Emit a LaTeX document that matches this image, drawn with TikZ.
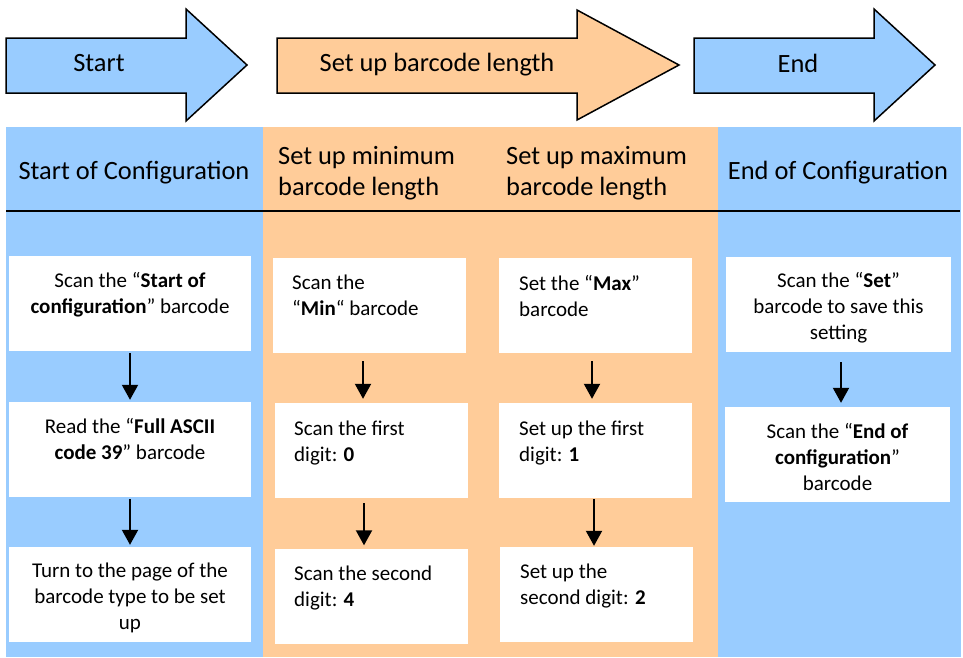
\documentclass[tikz,border=0pt]{standalone}
\usepackage{fontspec}
\setmainfont{Carlito}
\usetikzlibrary{arrows.meta,calc}
\definecolor{lblue}{HTML}{99CCFF}
\definecolor{lorange}{HTML}{FFCC99}
\begin{document}
\begin{tikzpicture}[x=1pt,y=-1pt,
  wbox/.style={fill=white, draw=none, inner sep=0pt},
  btxt/.style={font=\fontsize{21}{26}\selectfont, inner sep=0pt, align=center},
  ltxt/.style={font=\fontsize{21}{26}\selectfont, inner sep=0pt, align=left, anchor=west},
  htxt/.style={font=\fontsize{26.4}{31}\selectfont, inner sep=0pt},
  hltxt/.style={font=\fontsize{26.4}{31}\selectfont, inner sep=0pt, align=left, anchor=west},
  blk/.style={draw=black, line width=1.5pt, line join=miter},
  flow/.style={line width=2pt, -{Triangle[width=16pt,length=15pt]}}]
\useasboundingbox (0,0) rectangle (963,657);
% top block arrows
\draw[blk, fill=lblue] (6,38) -- (186,38) -- (186,9) -- (247,65) -- (186,121) -- (186,93) -- (6,93) -- cycle;
\draw[blk, fill=lorange] (277,38) -- (577,38) -- (577,10) -- (679,65) -- (577,120) -- (577,93) -- (277,93) -- cycle;
\draw[blk, fill=lblue] (694,38) -- (874,38) -- (874,9) -- (935,65) -- (874,121) -- (874,93) -- (694,93) -- cycle;
\node[htxt] (s1) at (99,63) {Start};
\node[htxt] (s2) at (437,65) {Set up barcode length};
\node[htxt] (s3) at (798,63) {End};
% panels
\fill[lblue] (6,127) rectangle (263,657);
\fill[lorange] (263,127) rectangle (718,657);
\fill[lblue] (718,127) rectangle (961,657);
\draw[line width=2pt] (6,211) -- (960,211);
% headings
\node[htxt] (h1) at (134,173) {Start of Configuration};
\node[hltxt] (h2) at (278,173) {Set up minimum\\barcode length};
\node[hltxt] (h3) at (506,173) {Set up maximum\\barcode length};
\node[htxt] (h4) at (838,173) {End of Configuration};
% boxes
\node[wbox, minimum width=242pt, minimum height=95pt] (a1) at (130,303.5) {};
\node[wbox, minimum width=242pt, minimum height=95pt] (a2) at (130,449.5) {};
\node[wbox, minimum width=242pt, minimum height=95pt] (a3) at (130,594.5) {};
\node[wbox, minimum width=193pt, minimum height=95pt] (m1) at (369.5,305.5) {};
\node[wbox, minimum width=193pt, minimum height=95pt] (m2) at (371.5,450.5) {};
\node[wbox, minimum width=193pt, minimum height=95pt] (m3) at (371.5,596) {};
\node[wbox, minimum width=193pt, minimum height=95pt] (x1) at (595.5,305.5) {};
\node[wbox, minimum width=193pt, minimum height=95pt] (x2) at (595.5,450.5) {};
\node[wbox, minimum width=193pt, minimum height=95pt] (x3) at (596.5,594.5) {};
\node[wbox, minimum width=225pt, minimum height=95pt] (e1) at (838.5,304.5) {};
\node[wbox, minimum width=225pt, minimum height=95pt] (e2) at (837.5,454.5) {};
% box texts
\node[btxt] (ta1) at (130,294.5) {Scan the “\textbf{Start of}\\\textbf{configuration}” barcode};
\node[btxt] (ta2) at (130,438.5) {Read the “\textbf{Full ASCII}\\\textbf{code 39}” barcode};
\node[btxt] (ta3) at (130,598) {Turn to the page of the\\barcode type to be set\\up};
\node[ltxt] (tm1) at (292,295) {Scan the\\“\textbf{Min}“ barcode};
\node[ltxt] (tm2) at (294,443) {Scan the first\\digit: \textbf{0}};
\node[ltxt] (tm3) at (294,587.5) {Scan the second\\digit: \textbf{4}};
\node[ltxt] (tx1) at (519,295.5) {Set the “\textbf{Max}”\\barcode};
\node[ltxt] (tx2) at (519,443) {Set up the first\\digit: \textbf{1}};
\node[ltxt] (tx3) at (520,586) {Set up the\\second digit: \textbf{2}};
\node[btxt] (te1) at (838.5,308) {Scan the “\textbf{Set}”\\barcode to save this\\setting};
\node[btxt] (te2) at (837.5,456.5) {Scan the “\textbf{End of}\\\textbf{configuration}”\\barcode};
% connectors
\draw[flow] ([yshift=-2pt]a1.south) -- ([yshift=2pt]a2.north);
\draw[flow] ([yshift=-2pt]a2.south) -- ([yshift=2pt]a3.north);
\draw[flow] ([xshift=-6.5pt,yshift=-8pt]m1.south) -- ([xshift=-8.5pt,yshift=4pt]m2.north);
\draw[flow] ([xshift=-7.5pt,yshift=-5pt]m2.south) -- ([xshift=-7.5pt,yshift=3pt]m3.north);
\draw[flow] ([xshift=-3.5pt,yshift=-8pt]x1.south) -- ([xshift=-3.5pt,yshift=4pt]x2.north);
\draw[flow] ([xshift=-1.5pt,yshift=-1pt]x2.south) -- ([xshift=-2.5pt,yshift=1pt]x3.north);
\draw[flow] ([xshift=2.5pt,yshift=-10pt]e1.south) -- ([xshift=3.5pt,yshift=4pt]e2.north);
\end{tikzpicture}
\end{document}
